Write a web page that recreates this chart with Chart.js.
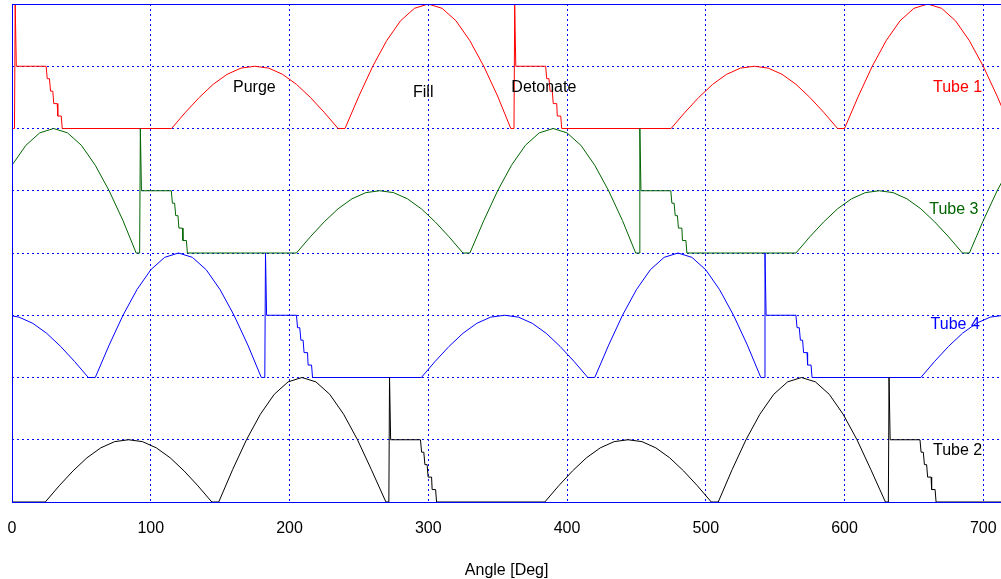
<!DOCTYPE html>
<html>
<head>
<meta charset="utf-8">
<script src="https://cdn.jsdelivr.net/npm/chart.js@4.4.0/dist/chart.umd.min.js"></script>
<style>
  html, body { margin: 0; padding: 0; background: #fff; overflow: hidden; }
  #wrap { width: 1011px; height: 579px; }
</style>
</head>
<body>
<div id="wrap"><canvas id="tubeChart" width="1011" height="579"></canvas></div>
<script>
// pressure traces, [angle (deg), level]
const tube1 = [
  [0,6],[1.8,6],[2.3,8],[3.1,7],[24.6,7],[25.4,6.8],[27,6.8],[27.8,6.6],[29.4,6.6],[30.1,6.4],[32.6,6.4],[33,6.2],[35.5,6.2],[36.2,6],
  [115,6],[125,6.26],[135,6.5],[145,6.71],[155,6.87],[165,6.97],[175,7],[185,6.97],[195,6.87],[205,6.71],[215,6.5],[225,6.26],[235,6],
  [240,6],[250,6.52],[260,7],[270,7.41],[280,7.73],[290,7.93],[300,8],[310,7.93],[320,7.73],[330,7.41],[340,7],[350,6.52],[359.5,6],
  [361.8,6],[362.3,8],[363.1,7],[384.6,7],[385.4,6.8],[387,6.8],[387.8,6.6],[389.4,6.6],[390.1,6.4],[392.6,6.4],[393,6.2],[395.5,6.2],[396.2,6],
  [475,6],[485,6.26],[495,6.5],[505,6.71],[515,6.87],[525,6.97],[535,7],[545,6.97],[555,6.87],[565,6.71],[575,6.5],[585,6.26],[595,6],
  [600,6],[610,6.52],[620,7],[630,7.41],[640,7.73],[650,7.93],[660,8],[670,7.93],[680,7.73],[690,7.41],[700,7],[710,6.52],[720,6]
];
const tube3 = [
  [0,5.41],[10,5.73],[20,5.93],[30,6],[40,5.93],[50,5.73],[60,5.41],[70,5],[80,4.52],[89.5,4],
  [92,4],[92.5,6],[93.3,5],[114.8,5],[115.6,4.8],[117.2,4.8],[118,4.6],[119.6,4.6],[120.3,4.4],[122.8,4.4],[123.2,4.2],[125.7,4.2],[126.4,4],
  [205,4],[215,4.26],[225,4.5],[235,4.71],[245,4.87],[255,4.97],[265,5],[275,4.97],[285,4.87],[295,4.71],[305,4.5],[315,4.26],[325,4],
  [330,4],[340,4.52],[350,5],[360,5.41],[370,5.73],[380,5.93],[390,6],[400,5.93],[410,5.73],[420,5.41],[430,5],[440,4.52],[449.5,4],
  [452,4],[452.5,6],[453.3,5],[474.8,5],[475.6,4.8],[477.2,4.8],[478,4.6],[479.6,4.6],[480.3,4.4],[482.8,4.4],[483.2,4.2],[485.7,4.2],[486.4,4],
  [565,4],[575,4.26],[585,4.5],[595,4.71],[605,4.87],[615,4.97],[625,5],[635,4.97],[645,4.87],[655,4.71],[665,4.5],[675,4.26],[685,4],
  [690,4],[700,4.52],[710,5],[720,5.41]
];
const tube4 = [
  [0,2.99],[5,2.97],[15,2.87],[25,2.71],[35,2.5],[45,2.26],[55,2],
  [60,2],[70,2.52],[80,3],[90,3.41],[100,3.73],[110,3.93],[120,4],[130,3.93],[140,3.73],[150,3.41],[160,3],[170,2.52],[179.7,2],
  [182.2,2],[182.7,4],[183.5,3],[205,3],[205.8,2.8],[207.4,2.8],[208.2,2.6],[209.8,2.6],[210.5,2.4],[213,2.4],[213.4,2.2],[215.9,2.2],[216.6,2],
  [295,2],[305,2.26],[315,2.5],[325,2.71],[335,2.87],[345,2.97],[355,3],[365,2.97],[375,2.87],[385,2.71],[395,2.5],[405,2.26],[415,2],
  [420,2],[430,2.52],[440,3],[450,3.41],[460,3.73],[470,3.93],[480,4],[490,3.93],[500,3.73],[510,3.41],[520,3],[530,2.52],[539.7,2],
  [542.2,2],[542.7,4],[543.5,3],[565,3],[565.8,2.8],[567.4,2.8],[568.2,2.6],[569.8,2.6],[570.5,2.4],[573,2.4],[573.4,2.2],[575.9,2.2],[576.6,2],
  [655,2],[665,2.26],[675,2.5],[685,2.71],[695,2.87],[705,2.97],[715,3],[720,2.99]
];
const tube2 = [
  [0,0],[24,0],[34,0.26],[44,0.5],[54,0.71],[64,0.87],[74,0.97],[84,1],[94,0.97],[104,0.87],[114,0.71],[124,0.5],[134,0.26],[144,0],
  [149,0],[159,0.52],[169,1],[179,1.41],[189,1.73],[199,1.93],[209,2],[219,1.93],[229,1.73],[239,1.41],[249,1],[259,0.52],[269.5,0],
  [271.6,0],[272.1,2],[272.9,1],[294.4,1],[295.2,0.8],[296.8,0.8],[297.6,0.6],[299.2,0.6],[299.9,0.4],[302.4,0.4],[302.8,0.2],[305.3,0.2],[306,0],
  [384,0],[394,0.26],[404,0.5],[414,0.71],[424,0.87],[434,0.97],[444,1],[454,0.97],[464,0.87],[474,0.71],[484,0.5],[494,0.26],[504,0],
  [509,0],[519,0.52],[529,1],[539,1.41],[549,1.73],[559,1.93],[569,2],[579,1.93],[589,1.73],[599,1.41],[609,1],[619,0.52],[629.5,0],
  [631.6,0],[632.1,2],[632.9,1],[654.4,1],[655.2,0.8],[656.8,0.8],[657.6,0.6],[659.2,0.6],[659.9,0.4],[662.4,0.4],[662.8,0.2],[665.3,0.2],[666,0],[720,0]
];

// in-plot text: [text, angle, level]
const notes = [
  ['Purge', 174.7, 6.65],
  ['Fill', 296.4, 6.57],
  ['Detonate', 383.3, 6.65],
  ['Tube 1', 681.5, 6.66],
  ['Tube 3', 678.8, 4.70],
  ['Tube 4', 679.8, 2.85],
  ['Tube 2', 681.5, 0.83]
];
const noteColors = ['#000', '#000', '#000', '#ff0000', '#006400', '#0000ff', '#000'];

const xTicks = [0, 100, 200, 300, 400, 500, 600, 700];
const xLabel = 'Angle [Deg]';

Chart.defaults.font.family = '"Liberation Sans", Arial, sans-serif';
Chart.defaults.font.size = 16;
Chart.defaults.color = '#000';

const toXY = arr => arr.map(([x, y]) => ({ x, y }));

const line = (data, color) => ({
  data: toXY(data),
  borderColor: color,
  borderWidth: 1,
  pointRadius: 0,
  tension: 0,
  fill: false
});

// frame drawn over the traces (the plot has it on top), plus the text
const framePlugin = {
  id: 'frame',
  afterDatasetsDraw(chart) {
    const { ctx, chartArea: a } = chart;
    const xs = chart.scales.x, ys = chart.scales.y;
    ctx.save();
    ctx.strokeStyle = '#0000ff';
    ctx.lineWidth = 1;
    ctx.beginPath();
    ctx.moveTo(a.right + 5, Math.round(a.top) + 0.5);
    ctx.lineTo(Math.round(a.left) + 0.5, Math.round(a.top) + 0.5);
    ctx.lineTo(Math.round(a.left) + 0.5, Math.round(a.bottom) + 0.5);
    ctx.lineTo(a.right + 5, Math.round(a.bottom) + 0.5);
    ctx.stroke();

    ctx.font = '16px "Liberation Sans", Arial, sans-serif';
    ctx.textAlign = 'center';
    ctx.textBaseline = 'middle';
    notes.forEach(([txt, ang, lvl], i) => {
      ctx.fillStyle = noteColors[i];
      ctx.fillText(txt, xs.getPixelForValue(ang), ys.getPixelForValue(lvl));
    });

    // axis title sits a little left of the plot centre in the original
    ctx.fillStyle = '#000';
    ctx.textBaseline = 'alphabetic';
    ctx.fillText(xLabel, xs.getPixelForValue(356.5), xs.bottom - 4);
    ctx.restore();
  }
};

new Chart(document.getElementById('tubeChart').getContext('2d'), {
  type: 'line',
  data: {
    datasets: [
      line(tube2, '#000000'),
      line(tube4, '#0000ff'),
      line(tube3, '#006400'),
      line(tube1, '#ff0000')
    ]
  },
  options: {
    responsive: false,
    animation: false,
    layout: { padding: { left: 0, right: 0, top: 4, bottom: 0 } },
    plugins: {
      legend: { display: false },
      tooltip: { enabled: false }
    },
    scales: {
      x: {
        type: 'linear',
        min: 0,
        max: 720,
        afterBuildTicks: s => { s.ticks = xTicks.map(v => ({ value: v })); },
        afterFit: s => { s.height = 77; s.paddingLeft = 0; s.paddingRight = 0; },
        ticks: { padding: 17, maxRotation: 0 },
        grid: { color: '#0000ff', lineWidth: 1, drawTicks: false },
        border: { display: false, dash: [2, 3] },
        title: { display: false }
      },
      y: {
        min: 0,
        max: 8,
        afterFit: s => { s.width = 12; },
        ticks: { stepSize: 1, display: false },
        grid: { color: '#0000ff', lineWidth: 1, drawTicks: false },
        border: { display: false, dash: [2, 3] }
      }
    }
  },
  plugins: [framePlugin]
});
</script>
</body>
</html>
